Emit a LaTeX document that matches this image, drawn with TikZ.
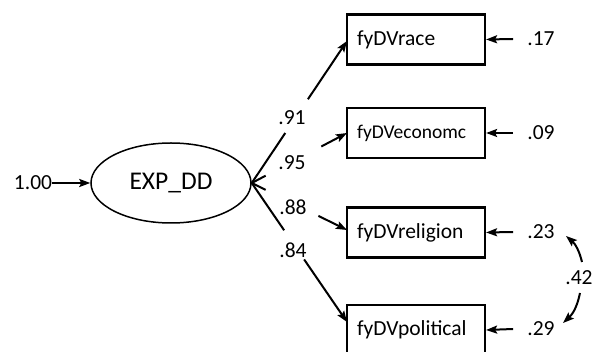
\documentclass[tikz,border=0pt]{standalone}
\usepackage{fontspec}
\setmainfont{Carlito}
\usetikzlibrary{shapes.geometric,arrows.meta,calc}
\tikzset{
  tip/.style={-{Stealth[length=11pt,width=8pt,inset=2pt]}},
  link/.style={line width=2pt},
  path/.style={link,tip},
  obsbox/.style={draw,line width=2.2pt,minimum width=138pt,minimum height=50pt,
    text width=118pt,inner sep=10pt,align=left,font=\fontsize{21.5}{23}\selectfont},
  latent/.style={draw,ellipse,line width=1.5pt,minimum width=160pt,minimum height=80pt,
    font=\fontsize{25.5}{27}\selectfont},
  num/.style={inner sep=0pt,font=\fontsize{21.5}{23}\selectfont}
}
\begin{document}
\begin{tikzpicture}[x=1pt,y=-1pt]
\useasboundingbox (0,0) rectangle (595,352);
\begin{scope}
\clip (0,0) rectangle (595,352);
% latent factor and its variance
\node[latent] (lat) at (171,183) {EXP\_DD};
\node[num] (var) at (33,183) {1.00};
\draw[path] (var.east) -- (lat.west);

% observed indicators
\node[obsbox] (race) at (416,39.5) {fyDVrace};
\node[obsbox,font=\fontsize{19.5}{21}\selectfont] (econ) at (416,133) {\raisebox{2pt}{fyDVeconomc}};
\node[obsbox] (relig) at (416,232.5) {fyDVreligion};
\node[obsbox] (polit) at (416,330) {fyDVpolitical};

% loadings (each path is broken where its estimate is printed)
\coordinate (race-in) at (347,41);
\coordinate (econ-in) at (347,133);
\coordinate (relig-in) at (347,230);
\coordinate (polit-in) at (347,322);
\draw[link] (lat.east) -- ($(lat.east)!0.352!(race-in)$);
\draw[path] ($(lat.east)!0.59!(race-in)$) -- (race-in);
\draw[link] (lat.east) -- ($(lat.east)!0.146!(econ-in)$);
\draw[path] ($(lat.east)!0.73!(econ-in)$) -- (econ-in);
\draw[link] (lat.east) -- ($(lat.east)!0.146!(relig-in)$);
\draw[path] ($(lat.east)!0.70!(relig-in)$) -- (relig-in);
\draw[link] (lat.east) -- ($(lat.east)!0.34!(polit-in)$);
\draw[path] ($(lat.east)!0.55!(polit-in)$) -- (polit-in);
\node[num] (l1) at (292,118) {.91};
\node[num] (l2) at (292,163) {.95};
\node[num] (l3) at (293,207) {.88};
\node[num] (l4) at (293,250) {.84};

% residual variances
\node[num] (e1) at (541,39) {.17};
\node[num] (e2) at (541,133) {.09};
\node[num] (e3) at (541,232) {.23};
\node[num] (e4) at (541,329) {.29};
\draw[path] ([xshift=-14pt]e1.west) -- (race.east);
\draw[path] ([xshift=-14pt]e2.west) -- (econ.east);
\draw[path] ([xshift=-14pt]e3.west) -- (relig.east);
\draw[path] ([xshift=-14pt]e4.west) -- (polit.east);

% residual correlation, broken around its estimate
\node[num] (r34) at (579,278) {.42};
\coordinate (a3) at (582,262);
\coordinate (a4) at (580,293);
\coordinate (c3) at (566,236);
\coordinate (c4) at (563,323);
\draw[path] (a3) to[bend right=18] (c3);
\draw[path] (a4) to[bend left=18] (c4);
\end{scope}
\end{tikzpicture}
\end{document}
